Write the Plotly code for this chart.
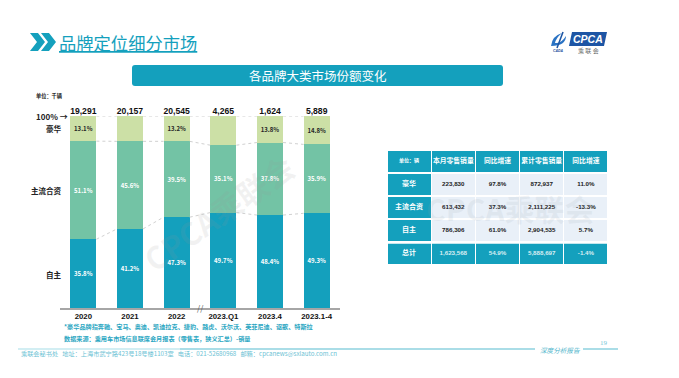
import plotly.graph_objects as go

W, H = 679, 378
FONT = "Noto Sans CJK SC"
LATIN = "Liberation Sans"
TEAL = "#14a0bd"
GREEN = "#73c3a5"
LIME = "#cce0a6"

categories = ["2020", "2021", "2022", "2023.Q1", "2023.4", "2023.1-4"]
totals = ["19,291", "20,157", "20,545", "4,265", "1,624", "5,889"]
own = [35.8, 41.2, 47.3, 49.7, 48.4, 49.3]
mainstream = [51.1, 45.6, 39.5, 35.1, 37.8, 35.9]
luxury = [13.1, 13.2, 13.2, 15.2, 13.8, 14.8]

table_header = ["单位：辆", "本月零售销量", "同比增速", "累计零售销量", "同比增速"]
table_rows = ["豪华", "主流合资", "自主", "总计"]
month_sales = ["223,830", "613,432", "786,306", "1,623,568"]
month_yoy = ["97.8%", "37.3%", "61.0%", "54.9%"]
ytd_sales = ["872,937", "2,111,225", "2,904,535", "5,888,697"]
ytd_yoy = ["11.0%", "-13.3%", "5.7%", "-1.4%"]

BAR_W = 0.56
xs = list(range(len(categories)))


def px(x):
    return x / W


def py(y):
    return 1 - y / H


fig = go.Figure()


def add_bar(name, vals, colour, text_colour):
    fig.add_trace(go.Bar(
        x=xs, y=vals, name=name, width=BAR_W, marker=dict(color=colour, line=dict(width=0)),
        text=[f"{v:.1f}%" for v in vals], textposition="inside", insidetextanchor="middle",
        textangle=0, constraintext="none",
        textfont=dict(family=FONT, size=6, color=text_colour, weight=700),
    ))


add_bar("自主", own, TEAL, "white")
add_bar("主流合资", mainstream, GREEN, "white")
add_bar("豪华", luxury, LIME, "#262626")

# dotted connectors between neighbouring stacked bars
levels = [own, [a + b for a, b in zip(own, mainstream)], [100.0] * len(own)]
for level in levels:
    cx, cy = [], []
    for i in xs[:-1]:
        cx += [i + BAR_W / 2, i + 1 - BAR_W / 2, None]
        cy += [level[i], level[i + 1], None]
    fig.add_trace(go.Scatter(x=cx, y=cy, mode="lines", hoverinfo="skip",
                             line=dict(color="#c4c4c4", width=0.8, dash="dot")))

fig.add_trace(go.Scatter(
    x=xs, y=[100] * len(xs), mode="text", text=totals, textposition="top center", cliponaxis=False,
    textfont=dict(family=LATIN, size=8.6, color="#111111", weight=700),
))

fill_body = "#e9f0f8"
fills = [[TEAL] * 4] + [[fill_body, fill_body, fill_body, TEAL] for _ in range(4)]
colours = [["white"] * 4] + [["#222222", "#222222", "#222222", "#d9eef3"] for _ in range(4)]
fig.add_trace(go.Table(
    domain=dict(x=[px(387), px(608)], y=[py(265.5), py(150)]),
    columnwidth=[44, 44, 44, 44, 44],
    header=dict(values=table_header, height=23, align="center",
                fill=dict(color=TEAL), line=dict(color="white", width=1.2),
                font=dict(family=FONT, size=[5, 6.8, 6.8, 6.8, 6.8], color="white", weight=700)),
    cells=dict(values=[table_rows, month_sales, month_yoy, ytd_sales, ytd_yoy], height=23, align="center",
               fill=dict(color=fills), line=dict(color="white", width=1.2),
               font=dict(family=[FONT, LATIN, LATIN, LATIN, LATIN], size=[7, 6.2, 6.2, 6.2, 6.2],
                         color=colours, weight=700)),
))


def note(x, y, text, size, colour, anchor="left", weight=400, family=FONT, angle=0):
    return dict(xref="paper", yref="paper", x=px(x), y=py(y), text=text, showarrow=False,
                xanchor=anchor, yanchor="middle", textangle=angle,
                font=dict(family=family, size=size, color=colour, weight=weight))


annotations = [
    note(57, 42, "<u>品牌定位细分市场</u>", 17.3, TEAL),
    note(317.5, 75.5, "各品牌大类市场份额变化", 12.5, "white", "center"),
    note(34, 96, "单位：千辆", 5.2, "#222222", weight=700),
    note(34, 116, "100% →", 8, "#222222", weight=700),
    note(64, 128.5, "豪华", 7.5, "#222222", "right", 700),
    note(64, 190, "主流合资", 7.5, "#222222", "right", 700),
    note(64, 274, "自主", 7.5, "#222222", "right", 700),
    note(62, 326.5, "*豪华品牌指奔驰、宝马、奥迪、凯迪拉克、捷豹、路虎、沃尔沃、英菲尼迪、讴歌、特斯拉", 6.15, "#2aa6c2", weight=700),
    note(62, 338, "数据来源：乘用车市场信息联席会月报表（零售表，狭义汇总）-销量", 6.15, "#2aa6c2", weight=700),
    note(19, 353.5, "乘联会秘书处   地址：上海市武宁路423号18号楼1103室   电话：021-52680968   邮箱：cpcanews@sxlauto.com.cn", 6.2, "#6cc2d4"),
    note(560, 350, "<i>深度分析报告</i>", 6.6, "#4fb5cb", "center"),
    note(604, 342.5, "19", 7, "#78c6d6", "center", family="Liberation Serif"),
    note(200, 307.5, "//", 8, "#555555", "center"),
    # watermarks
    note(218, 212, "CPCA乘联会", 31, "rgba(150,150,150,0.12)", "center", 700, angle=-35),
    note(510, 208, "CPCA乘联会", 30, "rgba(150,160,175,0.12)", "center", 700),
    # logo text
    note(588, 39, "<i>CPCA</i>", 10.5, "white", "center", 700, family=LATIN),
    note(588, 50, "乘 联 会", 6, "#666666", "center"),
    note(558.5, 50.5, "<i>CADA</i>", 3.5, "#1c4f9c", "center", 700, family=LATIN),
]


def chevron(x0):
    pts = [(x0, 33), (x0 + 8, 33), (x0 + 15, 42), (x0 + 8, 51), (x0, 51), (x0 + 7, 42)]
    return "M" + " L".join(f"{px(a):.5f},{py(b):.5f}" for a, b in pts) + " Z"


def rounded(x0, y0, x1, y1, r):
    a, b, c, d = px(x0), py(y0), px(x1), py(y1)
    rx, ry = r / W, r / H
    return (f"M{a + rx:.5f},{b:.5f} L{c - rx:.5f},{b:.5f} Q{c:.5f},{b:.5f} {c:.5f},{b - ry:.5f} "
            f"L{c:.5f},{d + ry:.5f} Q{c:.5f},{d:.5f} {c - rx:.5f},{d:.5f} "
            f"L{a + rx:.5f},{d:.5f} Q{a:.5f},{d:.5f} {a:.5f},{d + ry:.5f} "
            f"L{a:.5f},{b - ry:.5f} Q{a:.5f},{b:.5f} {a + rx:.5f},{b:.5f} Z")


def hline(x0, x1, y, colour, width):
    return dict(type="line", xref="paper", yref="paper", x0=px(x0), x1=px(x1), y0=py(y), y1=py(y),
                line=dict(color=colour, width=width))


def seg(x0, y0, x1, y1, colour, width):
    return dict(type="line", xref="paper", yref="paper", x0=px(x0), x1=px(x1), y0=py(y0), y1=py(y1),
                line=dict(color=colour, width=width))


shapes = [
    dict(type="path", xref="paper", yref="paper", path=chevron(30), fillcolor=TEAL, line=dict(width=0)),
    dict(type="path", xref="paper", yref="paper", path=chevron(41), fillcolor=TEAL, line=dict(width=0)),
    dict(type="path", xref="paper", yref="paper", path=rounded(132, 65, 503, 86, 3), fillcolor=TEAL, line=dict(width=0)),
    # logo
    dict(type="path", xref="paper", yref="paper",
         path="M" + " L".join(f"{px(a):.5f},{py(b):.5f}" for a, b in [(572, 32), (607, 32), (604, 46), (569, 46)]) + " Z",
         fillcolor="#1d55a4", line=dict(width=0)),
    dict(type="path", xref="paper", yref="paper",
         path=f"M{px(551):.5f},{py(46):.5f} Q{px(552):.5f},{py(36):.5f} {px(562):.5f},{py(33):.5f} "
              f"Q{px(556):.5f},{py(38):.5f} {px(555):.5f},{py(43):.5f} "
              f"Q{px(561):.5f},{py(44):.5f} {px(566):.5f},{py(36):.5f} "
              f"Q{px(566):.5f},{py(46):.5f} {px(551):.5f},{py(46):.5f} Z",
         fillcolor="#2a73c4", line=dict(width=0)),
    seg(563, 32, 557, 48, "#1d55a4", 1.6),
    # footer lines
    hline(18, 180, 349, "#a5dde7", 1.2),
    hline(180, 535, 349, "#56bcd0", 1.2),
    hline(583, 618, 349, "#56bcd0", 1.2),
    # wider gaps in the table
    hline(387, 608, 173.2, "white", 1.8),
    hline(387, 608, 242.9, "white", 1.8),
]

fig.update_layout(
    width=W, height=H, margin=dict(l=0, r=0, t=0, b=0), barmode="stack", showlegend=False,
    paper_bgcolor="white", plot_bgcolor="rgba(0,0,0,0)",
    annotations=annotations, shapes=shapes,
    xaxis=dict(domain=[px(60), px(340)], range=[-0.5, 5.5], tickmode="array", tickvals=xs, ticktext=categories,
               showgrid=False, zeroline=False, showline=True, linecolor="#a6a6a6", linewidth=2, ticks="",
               tickfont=dict(family=LATIN, size=7.8, color="#111111", weight=700), fixedrange=True),
    yaxis=dict(domain=[py(308), py(116)], range=[0, 100], visible=False, fixedrange=True),
)

fig.write_html("out.html", config=dict(displayModeBar=False),
               post_script="document.body.style.margin='0';")
